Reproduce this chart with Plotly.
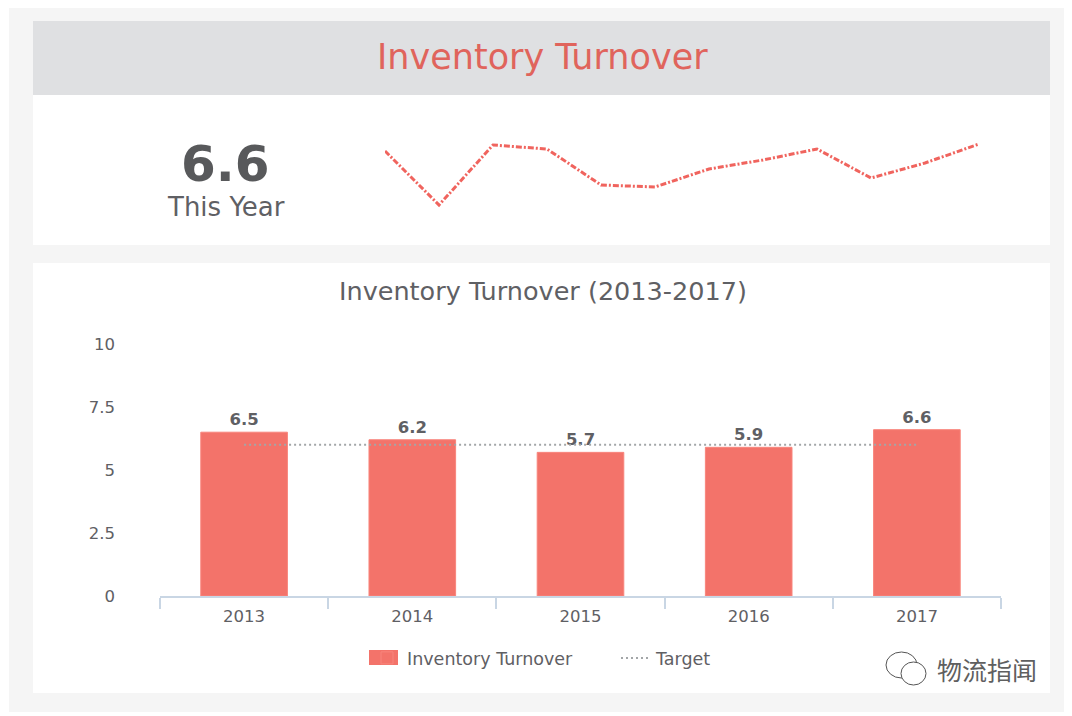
import plotly.graph_objects as go

# the page keeps an 8px body margin, so the figure sits at (8, 8)
W, H = 1064, 708
OFF = 8

# data
years = ['2013', '2014', '2015', '2016', '2017']
turnover = [6.5, 6.2, 5.7, 5.9, 6.6]
target = [6, 6, 6, 6, 6]
months = ['Jan', 'Feb', 'Mar', 'Apr', 'May', 'Jun', 'Jul', 'Aug', 'Sep', 'Oct', 'Nov', 'Dec']
monthly = [6.46, 5.38, 6.58, 6.5, 5.78, 5.74, 6.1, 6.28, 6.5, 5.92, 6.22, 6.6]
y_ticks = [0, 2.5, 5, 7.5, 10]
y_labels = ['0', '2.5', '5', '7.5', '10']

FONT = 'DejaVu Sans'
GREY = '#5f6064'
RED = '#f3736a'


def px(x):
    return (x - OFF) / W


def py(y):
    return 1 - (y - OFF) / H


fig = go.Figure()

# bars and target line
fig.add_trace(go.Bar(x=years, y=turnover, name='Inventory Turnover', width=0.515,
                     marker=dict(color=RED, line=dict(color='#f8857c', width=1)),
                     text=[f'{v:.1f}' for v in turnover], textposition='outside',
                     textfont=dict(family=FONT, size=16.5, color=GREY, weight=600), cliponaxis=False))
fig.add_trace(go.Scatter(x=years, y=target, name='Target', mode='lines',
                         line=dict(color='#a3a6a8', width=2, dash='2px,3px')))

# sparkline in the top card
fig.add_trace(go.Scatter(x=months, y=monthly, mode='lines', showlegend=False,
                         xaxis='x2', yaxis='y2',
                         line=dict(color='#f0645e', width=3, dash='6px,2px,2px,2px')))


def rect(x0, y0, x1, y1, color, layer='below'):
    return dict(type='rect', xref='paper', yref='paper', layer=layer,
                x0=px(x0), x1=px(x1), y0=py(y0), y1=py(y1),
                fillcolor=color, line=dict(width=0))


def bubble(x0, y0, x1, y1):
    return dict(type='circle', xref='paper', yref='paper',
                x0=px(x0), x1=px(x1), y0=py(y0), y1=py(y1),
                fillcolor='white', line=dict(color='#555555', width=1))


shapes = [
    rect(9, 8, 1064, 712, '#f5f5f5'),
    rect(33, 21, 1050, 95, '#dfe0e2'),
    rect(33, 95, 1050, 245, '#ffffff'),
    rect(33, 263, 1050, 693, '#ffffff'),
    # wider legend swatch than plotly draws for bars
    rect(369, 650, 398, 665, RED, layer='above'),
    bubble(886, 652, 917, 678),
    bubble(901, 662, 926, 685),
]


def label(text, x, y, size, color=GREY, weight=None, family=FONT):
    return dict(text=text, xref='paper', yref='paper', x=px(x), y=py(y),
                showarrow=False, xanchor='center', yanchor='middle',
                font=dict(family=family, size=size, color=color, weight=weight))


annotations = [
    label('Inventory Turnover', 542, 57, 35, color='#e0645c', weight=500),
    label('6.6', 225, 164, 50, color='#58595b', weight=700),
    label('This Year', 226, 207, 26),
    label('Inventory Turnover (2013-2017)', 543, 291, 25.5),
    label('物流指闻', 987, 669, 25, color='#5f5f5f', family='Noto Sans CJK SC'),
]

fig.update_layout(
    width=W, height=H, autosize=False,
    margin=dict(l=0, r=0, t=0, b=0, autoexpand=False),
    paper_bgcolor='white', plot_bgcolor='rgba(0,0,0,0)',
    font=dict(family=FONT, color=GREY),
    shapes=shapes, annotations=annotations,
    xaxis=dict(domain=[px(160), px(1001)], type='category', tickson='boundaries',
               ticks='outside', ticklen=11, tickcolor='#c9d6e4', tickwidth=1.5,
               showline=True, linecolor='#c9d6e4', linewidth=1.5, showgrid=False,
               ticklabelstandoff=4, tickfont=dict(size=16.5, color=GREY)),
    yaxis=dict(domain=[py(596), py(344)], range=[0, 10], tickvals=y_ticks, ticktext=y_labels,
               showgrid=False, zeroline=False, showline=False, ticklabelstandoff=44,
               tickfont=dict(size=16.5, color=GREY)),
    xaxis2=dict(domain=[px(385), px(979)], anchor='y2', visible=False, type='category',
                range=[0, 11]),
    yaxis2=dict(domain=[py(210), py(140)], anchor='x2', visible=False, range=[5.28, 6.68]),
    bargap=0.48,
    legend=dict(orientation='h', x=px(367), y=py(658), xanchor='left', yanchor='middle',
                entrywidth=204, font=dict(size=17.5, color=GREY), bgcolor='rgba(0,0,0,0)'),
)

fig.write_html("out.html")
